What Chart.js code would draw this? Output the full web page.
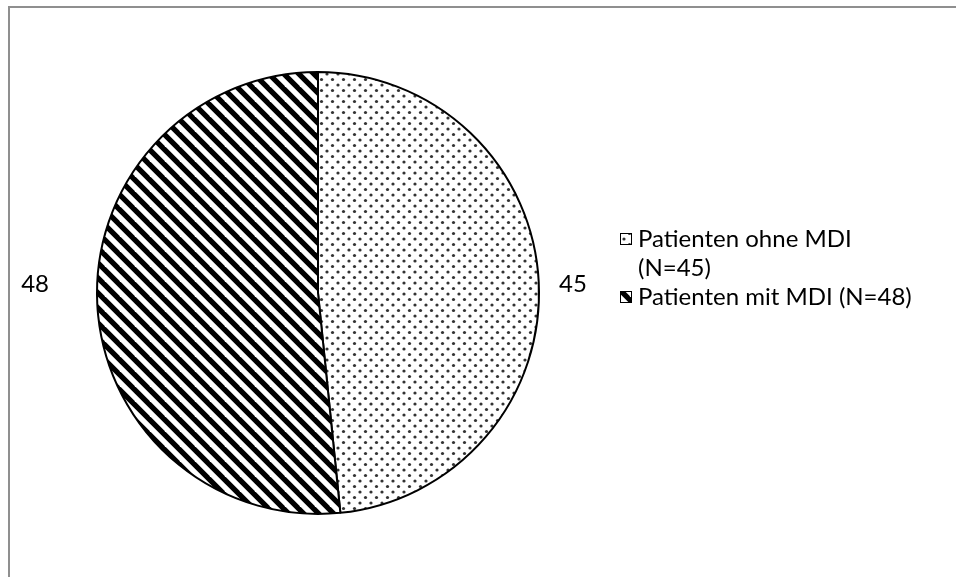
<!DOCTYPE html>
<html>
<head>
<meta charset="utf-8">
<script src="https://cdn.jsdelivr.net/npm/chart.js@4.4.1/dist/chart.umd.min.js"></script>
<style>
  html, body { margin: 0; padding: 0; background: #fff; }
  #wrap { position: relative; width: 956px; height: 577px; overflow: hidden; }
  #frame { position: absolute; left: 8px; top: 6px; width: 1000px; height: 1000px;
           border-left: 2px solid #8f8f8f; border-top: 2px solid #8f8f8f; box-sizing: border-box; }
  canvas { position: absolute; left: 0; top: 0; }
</style>
</head>
<body>
<div id="wrap">
  <div id="frame"></div>
  <canvas id="c" width="956" height="577"></canvas>
</div>
<script>
// Patient groups and counts
const categories = ['Patienten ohne MDI (N=45)', 'Patienten mit MDI (N=48)'];
const legendLines = [['Patienten ohne MDI', '(N=45)'], ['Patienten mit MDI (N=48)']];
const values = [45, 48];

const FONT = '"Lato", "Open Sans", sans-serif';

// Fine dotted fill
function dotPattern() {
  const s = 11;
  const t = document.createElement('canvas');
  t.width = s; t.height = s;
  const g = t.getContext('2d');
  g.fillStyle = '#fff';
  g.fillRect(0, 0, s, s);
  g.fillStyle = '#333';
  [[2.5, 2.5], [8, 8]].forEach(([x, y]) => {
    g.beginPath(); g.arc(x, y, 1.6, 0, Math.PI * 2); g.fill();
  });
  return g.createPattern(t, 'repeat');
}

// Wide downward diagonal stripes
function stripePattern() {
  const s = 15;
  const t = document.createElement('canvas');
  t.width = s; t.height = s;
  const g = t.getContext('2d');
  g.fillStyle = '#fff';
  g.fillRect(0, 0, s, s);
  g.strokeStyle = '#000';
  g.lineWidth = 5.3;
  [-s, 0, s].forEach(x0 => {
    g.beginPath(); g.moveTo(x0 - 3, -3); g.lineTo(x0 + s + 3, s + 3); g.stroke();
  });
  return g.createPattern(t, 'repeat');
}

const ctx = document.getElementById('c').getContext('2d');
const fills = [dotPattern(), stripePattern()];

// Value labels placed just outside the pie
const valueLabels = {
  id: 'valueLabels',
  afterDatasetsDraw(chart, args, opts) {
    const c = chart.ctx;
    const meta = chart.getDatasetMeta(0);
    c.save();
    c.font = opts.font;
    c.fillStyle = '#000';
    c.textBaseline = 'middle';
    meta.data.forEach((arc, i) => {
      const { x, y, startAngle, endAngle, outerRadius } = arc.getProps(['x', 'y', 'startAngle', 'endAngle', 'outerRadius'], true);
      const mid = (startAngle + endAngle) / 2;
      const right = Math.cos(mid) >= 0;
      const gap = opts.gaps[i];
      c.textAlign = right ? 'left' : 'right';
      c.fillText(String(chart.data.datasets[0].data[i]),
        x + (right ? 1 : -1) * (outerRadius + gap), y + opts.dy);
    });
    c.restore();
  }
};

// Legend with patterned swatches at the right
const sideLegend = {
  id: 'sideLegend',
  afterDraw(chart, args, opts) {
    const c = chart.ctx;
    c.save();
    c.font = opts.font;
    c.fillStyle = '#000';
    c.textBaseline = 'middle';
    c.textAlign = 'left';
    let y = opts.top;
    legendLines.forEach((lines, i) => {
      const b = opts.box;
      c.fillStyle = fills[i];
      c.fillRect(opts.left, y - b / 2, b, b);
      c.strokeStyle = '#000';
      c.lineWidth = 1;
      c.strokeRect(opts.left + 0.5, Math.round(y - b / 2) + 0.5, b - 1, b - 1);
      c.fillStyle = '#000';
      lines.forEach((t, k) => c.fillText(t, opts.left + opts.textGap, y + k * opts.lineHeight));
      y += lines.length * opts.lineHeight + opts.itemGap;
    });
    c.restore();
  }
};

new Chart(ctx, {
  type: 'pie',
  data: {
    labels: categories,
    datasets: [{
      data: values,
      backgroundColor: fills,
      borderColor: '#000',
      borderWidth: 2
    }]
  },
  options: {
    responsive: false,
    animation: false,
    layout: { padding: { left: 96, top: 71, right: 416, bottom: 62 } },
    plugins: {
      legend: { display: false },
      tooltip: { enabled: false },
      valueLabels: { font: '24px ' + FONT, gaps: [20, 48], dy: -9 },
      sideLegend: { font: '24px ' + FONT, left: 620, top: 239, box: 12, textGap: 18,
                    lineHeight: 29, itemGap: 0 }
    }
  },
  plugins: [valueLabels, sideLegend]
});
</script>
</body>
</html>
